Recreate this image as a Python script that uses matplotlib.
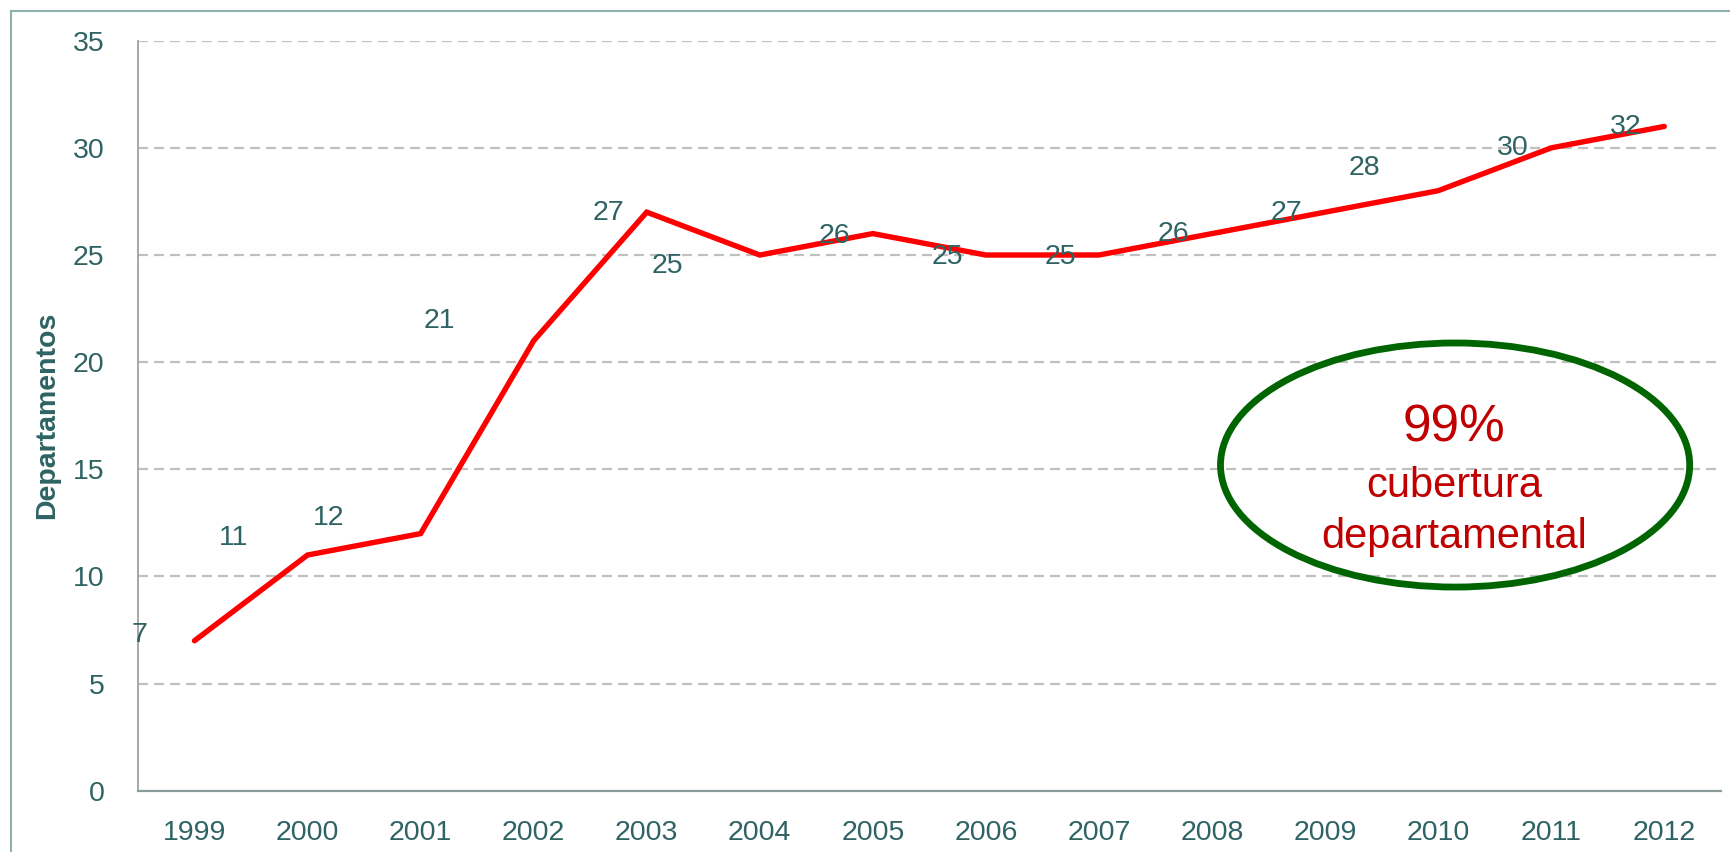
import matplotlib
matplotlib.use("Agg")
import matplotlib.pyplot as plt
from matplotlib.patches import Ellipse, Rectangle

years = ['1999', '2000', '2001', '2002', '2003', '2004', '2005',
         '2006', '2007', '2008', '2009', '2010', '2011', '2012']
departamentos = [7, 11, 12, 21, 27, 25, 26, 25, 25, 26, 27, 28, 30, 31]
# labels as they appear on the original (shifted off their points)
label_texts = ['7', '11', '12', '21', '27', '25', '26', '25', '25', '26', '27', '28', '30', '32']
y_ticks = [0, 5, 10, 15, 20, 25, 30, 35]

teal = '#2F6363'
plt.rcParams['font.family'] = ['Liberation Sans', 'DejaVu Sans']

fig = plt.figure(figsize=(17.31, 8.52), dpi=100)
ax = fig.add_axes([0.0797, 0.0719, 0.9144, 0.8803])

x = list(range(len(years)))
ax.plot(x, departamentos, color='#FF0000', lw=3.9, solid_capstyle='round',
        solid_joinstyle='miter', zorder=3)

# where each label sits (category index, y value)
label_pos = [(-0.49, 7.27), (0.35, 11.8), (1.19, 12.75), (2.17, 21.9),
             (3.66, 26.95), (4.18, 24.5), (5.66, 25.9), (6.66, 24.9),
             (7.66, 24.9), (8.66, 25.97), (9.66, 26.95), (10.35, 29.05),
             (11.66, 30.0), (12.66, 30.97)]
for (px, py), t in zip(label_pos, label_texts):
    ax.text(px, py, t, ha='center', va='center', fontsize=20.5, color=teal,
            zorder=4, clip_on=False)

ax.set_xlim(-0.5, len(years) - 0.5)
ax.set_ylim(0, 35)
ax.set_xticks(x)
ax.set_xticklabels(years)
ax.set_yticks(y_ticks)
ax.tick_params(axis='both', length=0, labelsize=20.5, colors=teal)
ax.tick_params(axis='y', pad=24)
ax.tick_params(axis='x', pad=21)

for v in y_ticks[1:]:
    ax.axhline(v, color='#C0C0C0', lw=1.6, dashes=(4.5, 2.7), zorder=1)

for s in ['top', 'right']:
    ax.spines[s].set_visible(False)
ax.spines['left'].set_color('#A0A0A0')
ax.spines['left'].set_linewidth(1.3)
ax.spines['bottom'].set_color('#8C9C9C')
ax.spines['bottom'].set_linewidth(1.6)

ax.set_ylabel('Departamentos', fontsize=20.5, fontweight='bold', color=teal)
ax.yaxis.set_label_coords(-0.049, 0.5)

# coverage callout
ax.add_patch(Ellipse((11.15, 15.2), 4.15, 11.39, fill=False,
                     edgecolor='#006400', lw=4.9, zorder=5))
ax.text(11.14, 16.95, '99%', ha='center', va='center', fontsize=37,
        color='#C00000', zorder=6)
ax.text(11.14, 14.2, 'cubertura', ha='center', va='center', fontsize=30,
        color='#C00000', zorder=6)
ax.text(11.14, 11.85, 'departamental', ha='center', va='center', fontsize=30,
        color='#C00000', zorder=6)

# outer frame
fig.patches.append(Rectangle((0.0062, -0.05), 1.2, 0.9867 + 0.05,
                             transform=fig.transFigure, fill=False,
                             edgecolor='#90B0B0', lw=1.5))

fig.savefig('out.png', dpi=100)
